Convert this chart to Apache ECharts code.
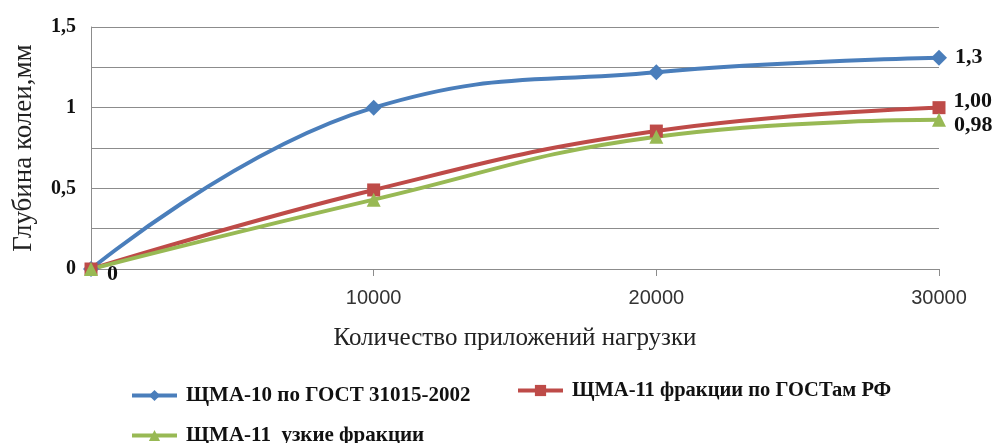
<!DOCTYPE html>
<html><head><meta charset="utf-8">
<script src="https://cdn.jsdelivr.net/npm/echarts@6/dist/echarts.min.js"></script>
<style>html,body{margin:0;padding:0;background:#fff}#c{width:1003px;height:443px}</style>
</head><body><div id="c"></div>
<script>
var xValues = [0, 10000, 20000, 30000];
var seriesNames = ['ЩМА-10 по ГОСТ 31015-2002', 'ЩМА-11 фракции по ГОСТам РФ', 'ЩМА-11  узкие фракции'];
var blueValues = [0, 1.0, 1.22, 1.31];
var redValues = [0, 0.49, 0.855, 1.0];
var greenValues = [0, 0.43, 0.82, 0.925];
var blueLabels = ['0', '', '', '1,3'];
var redLabels = ['', '', '', '1,00'];
var greenLabels = ['', '', '', '0,98'];
var yTickLabels = {'0': '0', '0.5': '0,5', '1': '1', '1.5': '1,5'};

var serif = '"Liberation Serif","Times New Roman",serif';
function pairs(vals){ return xValues.map(function(x,i){ return [x, vals[i]]; }); }
function mk(name, vals, labels, color, symbol, size, lblOffsets){
  return {
    name: name, type: 'line', data: pairs(vals), smooth: 0.45,
    symbol: symbol, symbolSize: size,
    lineStyle: {color: color, width: 4},
    itemStyle: {color: color},
    label: {show: true, position: 'right', distance: 8,
      formatter: function(p){ return labels[p.dataIndex]; },
      fontFamily: serif, fontWeight: 'bold', fontSize: 22, color: '#111'},
    labelLayout: function(p){ var o = lblOffsets[p.dataIndex] || [0,0]; return {dx: o[0], dy: o[1]}; },
    emphasis: {disabled: true}
  };
}
var chart = echarts.init(document.getElementById('c'));
function lg(name, left, top, fs){
  return {orient:'horizontal', itemWidth: 45, itemHeight: 14, data: [name], left: left, top: top,
    lineStyle: {width: 4},
    textStyle: {fontFamily: serif, fontWeight: 'bold', fontSize: fs, color: '#111', padding: [0,0,0,4]}};
}
chart.setOption({
  animation: false,
  grid: {left: 91, right: 64, top: 27, bottom: 174},
  legend: [lg(seriesNames[0], 125, 380, 21), lg(seriesNames[1], 511, 375, 20.5), lg(seriesNames[2], 125, 420, 21)],
  xAxis: {type: 'value', min: 0, max: 30000, interval: 10000,
    name: 'Количество приложений нагрузки', nameLocation: 'middle', nameGap: 57,
    nameTextStyle: {fontFamily: serif, fontSize: 25, color: '#222'},
    axisLine: {show: true, lineStyle: {color: '#8c8c8c', width: 1}},
    axisTick: {show: true, length: 7, lineStyle: {color: '#8c8c8c'}},
    axisLabel: {margin: 19, fontFamily: '"Liberation Sans", Arial, sans-serif', fontSize: 20, color: '#333',
      formatter: function(v){ return v === 0 ? '' : String(v); }},
    splitLine: {show: false}},
  yAxis: {type: 'value', min: 0, max: 1.5, interval: 0.25,
    name: 'Глубина колеи,мм', nameLocation: 'middle', nameGap: 54,
    nameTextStyle: {fontFamily: serif, fontSize: 27, color: '#222'},
    axisLine: {show: true, lineStyle: {color: '#8c8c8c', width: 1}},
    axisTick: {show: false},
    axisLabel: {margin: 15, fontFamily: serif, fontWeight: 'bold', fontSize: 20, color: '#111',
      formatter: function(v){ var k = String(Math.round(v*100)/100); return yTickLabels[k] !== undefined ? yTickLabels[k] : ''; }},
    splitLine: {show: true, lineStyle: {color: '#8c8c8c', width: 1}}},
  series: [
    mk(seriesNames[0], blueValues, blueLabels, '#4a7ebb', 'diamond', 16, [[0,5],null,null,[0,0]]),
    mk(seriesNames[1], redValues, redLabels, '#be4b48', 'rect', 13, [null,null,null,[0,-6]]),
    mk(seriesNames[2], greenValues, greenLabels, '#98b954', 'triangle', 14, [null,null,null,[0,6]])
  ]
});
</script></body></html>
